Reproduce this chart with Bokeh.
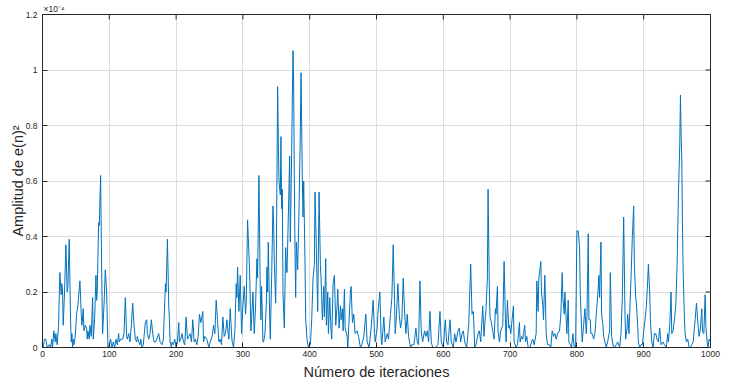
import math
from bokeh.plotting import figure
from bokeh.models import Range1d, FixedTicker
from bokeh.embed import file_html
from bokeh.resources import INLINE

# (iteración, amplitud de e(n)^2 en unidades de 1e-4)
tramo_0_100 = [(1,0.0),(3,0.03),(5,0.03),(7,0.0),(10,0.01),(12,0.0),(14,0.03),(15,0.0),(17,0.06),(19,0.02),
    (20,0.05),(22,0.01),(24,0.08),(26,0.27),(28,0.19),(29,0.23),(30,0.2),(31,0.08),(33,0.2),(35,0.37),
    (37,0.2),(38,0.22),(40,0.39),(42,0.1),(43,0.02),(44,0.05),(45,0.0),(46,0.03),(47,0.01),(49,0.04),
    (51,0.12),(53,0.15),(56,0.24),(58,0.12),(59,0.08),(61,0.14),(62,0.06),(64,0.08),(66,0.07),(67,0.03),
    (68,0.06),(70,0.03),(71,0.08),(73,0.04),(75,0.18),(76,0.03),(78,0.1),(80,0.26),(81,0.17),(82,0.2),
    (84,0.45),(85,0.44),(87,0.62),(88,0.4),(89,0.2),(90,0.05),(92,0.15),(94,0.28),(96,0.2),(98,0.0),(100,0.01)]

tramo_100_330 = [(102,0.03),(104,0.0),(106,0.02),(108,0.0),(110,0.03),(112,0.01),(114,0.05),(115,0.02),(117,0.03),
    (120,0.03),(122,0.05),(124,0.18),(126,0.04),(127,0.03),(129,0.05),(131,0.02),(133,0.08),(135,0.16),(137,0.08),
    (139,0.03),(141,0.02),(142,0.04),(144,0.02),(146,0.01),(147,0.03),(149,0.0),(151,0.01),(152,0.04),(154,0.09),
    (156,0.1),(157,0.05),(159,0.03),(161,0.05),(163,0.1),(165,0.05),(167,0.02),(169,0.02),(171,0.03),(174,0.05),
    (176,0.02),(179,0.01),(181,0.03),(182,0.1),(184,0.23),(185,0.2),(187,0.39),(189,0.15),(190,0.1),(191,0.02),
    (193,0.0),(194,0.02),(196,0.01),(198,0.03),(200,0.0),(202,0.02),(204,0.09),(205,0.02),(207,0.03),(209,0.05),
    (211,0.02),(213,0.01),(215,0.11),(217,0.03),(219,0.04),(221,0.05),(223,0.02),(225,0.1),(227,0.02),(229,0.03),
    (231,0.01),(233,0.04),(235,0.12),(237,0.09),(240,0.13),(241,0.02),(243,0.04),(246,0.03),(249,0.0),(251,0.02),
    (254,0.04),(256,0.08),(258,0.05),(260,0.17),(262,0.1),(264,0.02),(266,0.03),(268,0.01),(270,0.11),(272,0.04),
    (274,0.05),(276,0.1),(278,0.05),(279,0.03),(281,0.14),(283,0.05),(284,0.02),(286,0.0),(288,0.06),(290,0.23),
    (291,0.18),(292,0.29),(294,0.13),(296,0.26),(298,0.05),(300,0.15),(302,0.22),(304,0.12),(305,0.16),(307,0.46),
    (308,0.4),(310,0.28),(312,0.06),(313,0.1),(315,0.2),(317,0.05),(319,0.15),(321,0.32),(322,0.25),(324,0.62),
    (326,0.2),(327,0.1),(328,0.22),(330,0.02)]

tramo_330_400 = [(331,0.02),(333,0.05),(335,0.15),(336,0.29),(337,0.2),(338,0.38),(340,0.12),(341,0.03),(343,0.25),
    (345,0.51),(346,0.45),(347,0.31),(349,0.16),(350,0.3),(352,0.94),(353,0.75),(354,0.6),(356,0.55),(357,0.76),
    (358,0.5),(359,0.57),(360,0.2),(362,0.07),(364,0.36),(365,0.3),(366,0.27),(368,0.47),(370,0.69),(371,0.38),
    (373,0.7),(374,0.9),(375,1.07),(376,0.94),(377,0.6),(378,0.35),(379,0.18),(380,0.38),(382,0.28),(384,0.5),
    (386,0.78),(387,0.99),(388,0.8),(389,0.6),(390,0.47),(391,0.6),(393,0.3),(394,0.1),(396,0.03),(398,0.0),(400,0.01)]

tramo_400_660 = [(401,0.01),(403,0.1),(405,0.25),(407,0.3),(408,0.56),(410,0.35),(412,0.13),(414,0.56),(416,0.3),
    (417,0.25),(419,0.1),(421,0.22),(422,0.11),(424,0.32),(425,0.08),(427,0.2),(428,0.05),(430,0.18),(432,0.06),
    (433,0.03),(435,0.23),(437,0.26),(439,0.08),(441,0.15),(442,0.21),(444,0.07),(446,0.15),(447,0.1),(449,0.14),
    (450,0.06),(452,0.21),(453,0.07),(456,0.04),(457,0.0),(459,0.1),(461,0.2),(462,0.22),(464,0.09),(466,0.12),
    (468,0.05),(471,0.06),(473,0.04),(476,0.0),(478,0.01),(481,0.04),(484,0.12),(486,0.02),(489,0.0),(492,0.07),
    (495,0.17),(497,0.05),(498,0.02),(501,0.07),(502,0.12),(505,0.2),(507,0.03),(508,0.01),(511,0.11),(513,0.02),
    (516,0.05),(518,0.03),(521,0.12),(523,0.18),(525,0.37),(527,0.17),(528,0.05),(530,0.12),(532,0.23),(534,0.12),
    (536,0.07),(538,0.1),(540,0.25),(542,0.13),(544,0.05),(546,0.12),(548,0.04),(551,0.0),(553,0.01),(556,0.01),
    (559,0.07),(561,0.02),(563,0.01),(565,0.24),(567,0.06),(569,0.02),(572,0.06),(574,0.04),(576,0.06),(578,0.02),
    (580,0.13),(582,0.02),(584,0.0),(588,0.0),(592,0.01),(595,0.13),(597,0.02),(600,0.0),(603,0.1),(605,0.02),
    (607,0.01),(610,0.1),(612,0.02),(615,0.0),(617,0.05),(619,0.02),(622,0.06),(624,0.07),(626,0.02),(628,0.05),
    (630,0.06),(632,0.02),(635,0.0),(638,0.08),(641,0.3),(643,0.12),(645,0.13),(647,0.0),(649,0.01),(652,0.05),
    (654,0.06),(656,0.02),(659,0.15),(661,0.04)]

tramo_660_1000 = [(662,0.08),(664,0.14),(666,0.25),(667,0.57),(669,0.2),(670,0.11),(672,0.09),(674,0.06),(676,0.03),
    (678,0.14),(679,0.12),(681,0.22),(682,0.06),(684,0.02),(686,0.06),(689,0.08),(691,0.31),(693,0.1),(694,0.02),
    (696,0.17),(698,0.07),(699,0.08),(701,0.05),(703,0.1),(705,0.15),(706,0.02),(709,0.0),(711,0.01),(714,0.09),
    (715,0.02),(717,0.04),(719,0.03),(720,0.05),(722,0.08),(723,0.02),(725,0.04),(727,0.0),(730,0.0),(732,0.02),
    (734,0.03),(736,0.01),(739,0.05),(740,0.24),(742,0.13),(743,0.25),(745,0.29),(746,0.31),(747,0.2),(749,0.15),
    (750,0.1),(752,0.26),(754,0.05),(756,0.01),(759,0.01),(761,0.0),(763,0.06),(765,0.04),(767,0.05),(769,0.03),
    (771,0.05),(774,0.06),(776,0.12),(778,0.27),(779,0.18),(781,0.12),(782,0.2),(784,0.1),(785,0.05),(787,0.17),
    (788,0.02),(790,0.01),(792,0.0),(794,0.05),(796,0.0),(798,0.0),(800,0.42),(802,0.42),(804,0.36),(805,0.2),
    (807,0.07),(808,0.02),(810,0.08),(812,0.14),(814,0.05),(815,0.1),(817,0.41),(818,0.1),(820,0.1),(821,0.05),
    (823,0.05),(825,0.03),(827,0.05),(829,0.12),(831,0.18),(833,0.26),(834,0.18),(836,0.38),(837,0.12),(839,0.08),
    (840,0.04),(842,0.02),(844,0.0),(846,0.02),(849,0.06),(850,0.27),(852,0.04),(854,0.01),(856,0.0),(859,0.01),
    (861,0.02),(864,0.0),(866,0.05),(868,0.18),(870,0.47),(872,0.12),(873,0.03),(875,0.07),(876,0.12),(878,0.05),
    (879,0.12),(881,0.25),(883,0.4),(885,0.51),(886,0.3),(888,0.18),(889,0.16),(891,0.08),(892,0.02),(894,0.0),
    (896,0.01),(898,0.01),(900,0.06),(902,0.1),(904,0.15),(906,0.24),(907,0.3),(909,0.2),(910,0.1),(912,0.02),
    (914,0.0),(916,0.05),(918,0.05),(920,0.03),(922,0.02),(924,0.07),(926,0.01),(929,0.02),(931,0.01),(934,0.0),
    (936,0.05),(937,0.02),(939,0.08),(941,0.2),(942,0.05),(944,0.06),(946,0.1),(948,0.15),(950,0.3),(952,0.55),
    (954,0.73),(955,0.91),(956,0.77),(957,0.68),(958,0.45),(959,0.28),(961,0.1),(962,0.05),(964,0.02),(966,0.03),
    (968,0.0),(970,0.0),(972,0.01),(974,0.02),(977,0.1),(979,0.16),(981,0.09),(983,0.04),(985,0.07),(987,0.14),
    (988,0.06),(990,0.05),(992,0.19),(993,0.08),(995,0.02),(996,0.0),(998,0.03),(1000,0.02)]

x_ticks = [0, 100, 200, 300, 400, 500, 600, 700, 800, 900, 1000]
y_ticks = [0, 0.2, 0.4, 0.6, 0.8, 1.0, 1.2]
y_tick_labels = ["0", "0.2", "0.4", "0.6", "0.8", "1", "1.2"]

puntos = tramo_0_100 + tramo_100_330 + tramo_330_400 + tramo_400_660 + tramo_660_1000
iteraciones = [q[0] for q in puntos]
amplitud = [q[1] for q in puntos]

FONT = "Liberation Sans"
AX = "#262626"
GRID = "#dcdcdc"

p = figure(width=729, height=383, output_backend="svg", toolbar_location=None,
           x_range=Range1d(x_ticks[0], x_ticks[-1]), y_range=Range1d(y_ticks[0], y_ticks[-1]),
           min_border_left=42, min_border_right=19, min_border_top=12, min_border_bottom=36)
p.background_fill_color = "white"
p.border_fill_color = "white"
p.outline_line_color = AX
p.outline_line_width = 1

# multiplier shown above the axes
p.title.text = "×10⁻⁴"
p.title.align = "left"
p.title.offset = 1
p.title.standoff = 2
p.title.text_font = FONT
p.title.text_font_size = "8.5px"
p.title.text_font_style = "normal"
p.title.text_color = AX

p.line(iteraciones, amplitud, line_color="#0072BD", line_width=1)

# inward ticks on the top and right edges of the box (half of each dash is clipped by the frame)
p.scatter(x_ticks, [y_ticks[-1]] * len(x_ticks), marker="dash", size=10, angle=math.pi / 2,
          line_color=AX, line_width=1)
p.scatter([x_ticks[-1]] * len(y_ticks), y_ticks, marker="dash", size=10, angle=0,
          line_color=AX, line_width=1)

for ax in (p.xaxis[0], p.yaxis[0]):
    ax.axis_line_color = AX
    ax.major_tick_line_color = AX
    ax.major_tick_in = 5
    ax.major_tick_out = 0
    ax.minor_tick_line_color = None
    ax.major_label_text_font = FONT
    ax.major_label_text_font_size = "8.5px"
    ax.major_label_text_color = AX
    ax.axis_label_text_font = FONT
    ax.axis_label_text_font_size = "14.5px"
    ax.axis_label_text_font_style = "normal"
    ax.axis_label_text_color = AX

p.xaxis.ticker = FixedTicker(ticks=x_ticks)
p.yaxis.ticker = FixedTicker(ticks=y_ticks)
p.yaxis.major_label_overrides = {t: l for t, l in zip(y_ticks, y_tick_labels)}
p.xaxis.major_label_standoff = 3
p.yaxis.major_label_standoff = 5
p.xaxis.axis_label = "Número de iteraciones"
p.yaxis.axis_label = "Amplitud de e(n)²"
p.xaxis.axis_label_standoff = 4
p.yaxis.axis_label_standoff = -3

p.xgrid.ticker = FixedTicker(ticks=x_ticks)
p.ygrid.ticker = FixedTicker(ticks=y_ticks)
p.grid.grid_line_color = GRID
p.grid.grid_line_width = 1

open("out.html", "w").write(file_html(p, INLINE))
